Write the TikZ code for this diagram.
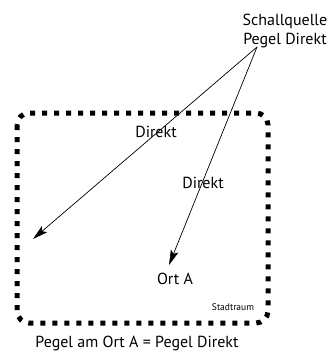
\documentclass[tikz,border=0pt]{standalone}
\usepackage{fontspec}
\setmainfont{PT Sans}
\usetikzlibrary{arrows.meta}
\begin{document}
\begin{tikzpicture}[x=1pt,y=-1pt,
  lbl/.style={inner sep=0pt,font=\fontsize{16}{19}\selectfont},
  small/.style={inner sep=0pt,font=\fontsize{9.5}{11}\selectfont},
  ray/.style={line width=0.7pt,-{Stealth[length=15pt,width=8pt,inset=3pt]}},
  wall/.style={line width=5pt,dash pattern=on 5pt off 7pt,rounded corners=12pt}]
\useasboundingbox (0,0) rectangle (334,353);
\draw[wall] (17,113) rectangle (268,323);
\node[lbl,align=center] (src) at (285,31) {Schallquelle\\Pegel Direkt};
\coordinate (s) at (257,47);
\coordinate (e1) at (33,239);
\coordinate (e2) at (169,265);
\draw[ray] (s) -- (e1);
\draw[ray] (s) -- (e2);
\node[lbl] (d1) at (156,132) {Direkt};
\node[lbl] (d2) at (203,183) {Direkt};
\node[lbl] (orta) at (175,279) {Ort A};
\node[small] (stadt) at (233,307) {Stadtraum};
\node[lbl] (eq) at (137,343) {Pegel am Ort A = Pegel Direkt};
\end{tikzpicture}
\end{document}
